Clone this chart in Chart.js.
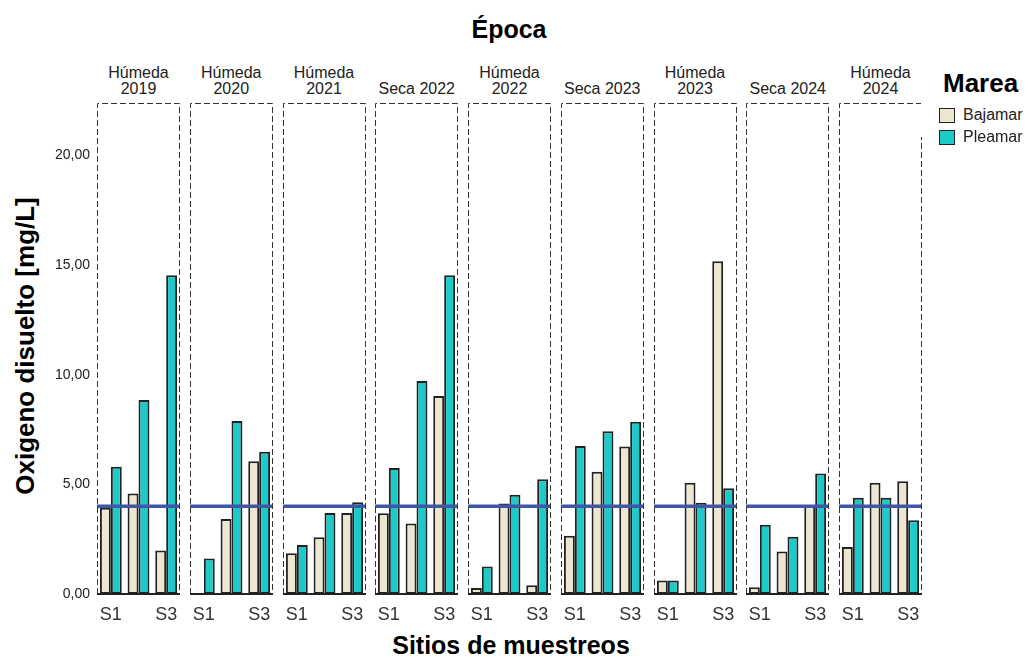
<!DOCTYPE html>
<html>
<head>
<meta charset="utf-8">
<script src="https://cdn.jsdelivr.net/npm/chart.js@4"></script>
<style>
  html, body { margin: 0; padding: 0; background: #fff; }
  body { width: 1026px; height: 658px; position: relative; overflow: hidden;
         font-family: 'Liberation Sans', Arial, sans-serif; color: #222; }
  canvas { position: absolute; }
  .txt { position: absolute; white-space: nowrap; }
  .bold { font-weight: bold; color: #000; }
  .ptitle { position: absolute; top: 57px; height: 40px; width: 83px; font-size: 16px; line-height: 16px;
            text-align: center; display: flex; flex-direction: column; justify-content: flex-end; }
  .sw { position: absolute; width: 14px; height: 13px; border: 1.5px solid #222; }
</style>
</head>
<body>
<div class="txt bold" style="left:509px;top:29px;transform:translate(-50%,-50%);font-size:25px;">Época</div>
<div class="txt bold" style="left:511px;top:645px;transform:translate(-50%,-50%);font-size:25px;">Sitios de muestreos</div>
<div class="txt bold" style="left:25px;top:346px;transform:translate(-50%,-50%) rotate(-90deg);font-size:26px;">Oxigeno disuelto [mg/L]</div>
<div id="titles"></div>
<div id="charts"></div>
<div id="legend" style="position:absolute;left:921px;top:60px;width:105px;height:77px;background:#fff;">
  <div class="txt bold" style="left:22px;top:23px;transform:translateY(-50%);font-size:26px;">Marea</div>
  <div id="legend-items"></div>
</div>
<script>
'use strict';

const EPOCAS = ['Húmeda 2019', 'Húmeda 2020', 'Húmeda 2021', 'Seca 2022', 'Húmeda 2022',
                'Seca 2023', 'Húmeda 2023', 'Seca 2024', 'Húmeda 2024'];
const SITIOS = ['S1', 'S2', 'S3'];
const MAREAS = ['Bajamar', 'Pleamar'];

// Oxigeno disuelto [mg/L] por sitio, una fila por época
const BAJAMAR = [
  [3.94, 4.59, 1.99],
  [0.03, 3.42, 6.06],
  [1.86, 2.59, 3.69],
  [3.68, 3.22, 9.03],
  [0.27, 4.13, 0.40],
  [2.66, 5.58, 6.73],
  [0.62, 5.08, 15.18],
  [0.31, 1.94, 4.01],
  [2.14, 5.08, 5.14]
];
const PLEAMAR = [
  [5.81, 8.85, 14.54],
  [1.62, 7.89, 6.49],
  [2.23, 3.69, 4.19],
  [5.75, 9.72, 14.54],
  [1.26, 4.53, 5.23],
  [6.75, 7.42, 7.86],
  [0.62, 4.16, 4.83],
  [3.16, 2.61, 5.50],
  [4.39, 4.39, 3.37]
];
const LIMITE = 4;
const Y_TICKS = [0, 5, 10, 15, 20];
const Y_MAX = 22.4;

const COLORS = { Bajamar: '#ede6d0', Pleamar: '#1ccbc9', limite: '#3f57a5', edge: '#222' };

Chart.defaults.font.family = "'Liberation Sans', Arial, sans-serif";
Chart.defaults.color = '#222';

const PANEL_LEFT = 97, PANEL_W = 83, PANEL_STEP = 92.75;
const CANVAS_TOP = 93, CANVAS_H = 541, AXIS_W = 97;

const panelFrame = {
  id: 'panelFrame',
  afterDatasetsDraw(chart) {
    const { ctx, chartArea: a, scales } = chart;
    const yl = scales.y.getPixelForValue(LIMITE);
    ctx.save();
    ctx.strokeStyle = COLORS.limite;
    ctx.lineWidth = 3.5;
    ctx.beginPath(); ctx.moveTo(a.left, yl); ctx.lineTo(a.right, yl); ctx.stroke();

    ctx.strokeStyle = '#333';
    ctx.lineWidth = 1;
    ctx.setLineDash([6, 3]);
    ctx.beginPath();
    ctx.moveTo(a.left + 0.5, a.bottom);
    ctx.lineTo(a.left + 0.5, a.top + 0.5);
    ctx.lineTo(a.right - 0.5, a.top + 0.5);
    ctx.lineTo(a.right - 0.5, a.bottom);
    ctx.stroke();

    ctx.setLineDash([]);
    ctx.strokeStyle = COLORS.edge;
    ctx.lineWidth = 2;
    ctx.beginPath(); ctx.moveTo(a.left, a.bottom); ctx.lineTo(a.right, a.bottom); ctx.stroke();
    ctx.restore();
  }
};

const titles = document.getElementById('titles');
const holder = document.getElementById('charts');

EPOCAS.forEach((epoca, i) => {
  const left = PANEL_LEFT + i * PANEL_STEP;
  const t = document.createElement('div');
  t.className = 'ptitle';
  t.style.left = left + 'px';
  t.textContent = epoca;
  titles.appendChild(t);

  const first = i === 0;
  const cv = document.createElement('canvas');
  cv.width = first ? AXIS_W + PANEL_W : PANEL_W;
  cv.height = CANVAS_H;
  cv.style.left = (first ? left - AXIS_W : left) + 'px';
  cv.style.top = CANVAS_TOP + 'px';
  holder.appendChild(cv);

  new Chart(cv, {
    type: 'bar',
    data: {
      labels: SITIOS,
      datasets: [
        { label: MAREAS[0], data: BAJAMAR[i], backgroundColor: COLORS.Bajamar },
        { label: MAREAS[1], data: PLEAMAR[i], backgroundColor: COLORS.Pleamar }
      ]
    },
    options: {
      responsive: false,
      animation: false,
      devicePixelRatio: 1,
      layout: { padding: { top: 10, left: 0, right: 0, bottom: 0 } },
      datasets: {
        bar: {
          borderColor: COLORS.edge, borderWidth: 2, borderSkipped: false,
          categoryPercentage: 0.79, barPercentage: 1
        }
      },
      plugins: { legend: { display: false }, title: { display: false }, tooltip: { enabled: false } },
      scales: {
        x: {
          grid: { display: false, drawTicks: false },
          border: { display: false },
          ticks: {
            font: { size: 18 }, padding: 10, maxRotation: 0, autoSkip: false, color: '#333',
            callback: (v, idx) => (idx === 0 || idx === SITIOS.length - 1) ? SITIOS[idx] : ''
          },
          afterFit: s => { s.height = 40; s.paddingLeft = 0; s.paddingRight = 0; }
        },
        y: {
          display: first,
          min: 0, max: Y_MAX,
          grid: { display: false, drawTicks: false },
          border: { display: false },
          afterBuildTicks: s => { s.ticks = Y_TICKS.map(v => ({ value: v })); },
          ticks: {
            font: { size: 14 }, padding: 7,
            callback: v => v.toFixed(2).replace('.', ',')
          },
          afterFit: s => {
            if (first) s.width = AXIS_W;
            s.paddingTop = 0; s.paddingBottom = 0;
          }
        }
      }
    },
    plugins: [panelFrame]
  });
});

const items = document.getElementById('legend-items');
MAREAS.forEach((m, k) => {
  const sw = document.createElement('div');
  sw.className = 'sw';
  sw.style.left = '18px';
  sw.style.top = (48 + k * 22) + 'px';
  sw.style.background = COLORS[m];
  items.appendChild(sw);
  const lb = document.createElement('div');
  lb.className = 'txt';
  lb.style.left = '42px';
  lb.style.top = (55 + k * 22) + 'px';
  lb.style.transform = 'translateY(-50%)';
  lb.style.fontSize = '16px';
  lb.textContent = m;
  items.appendChild(lb);
});
</script>
</body>
</html>
